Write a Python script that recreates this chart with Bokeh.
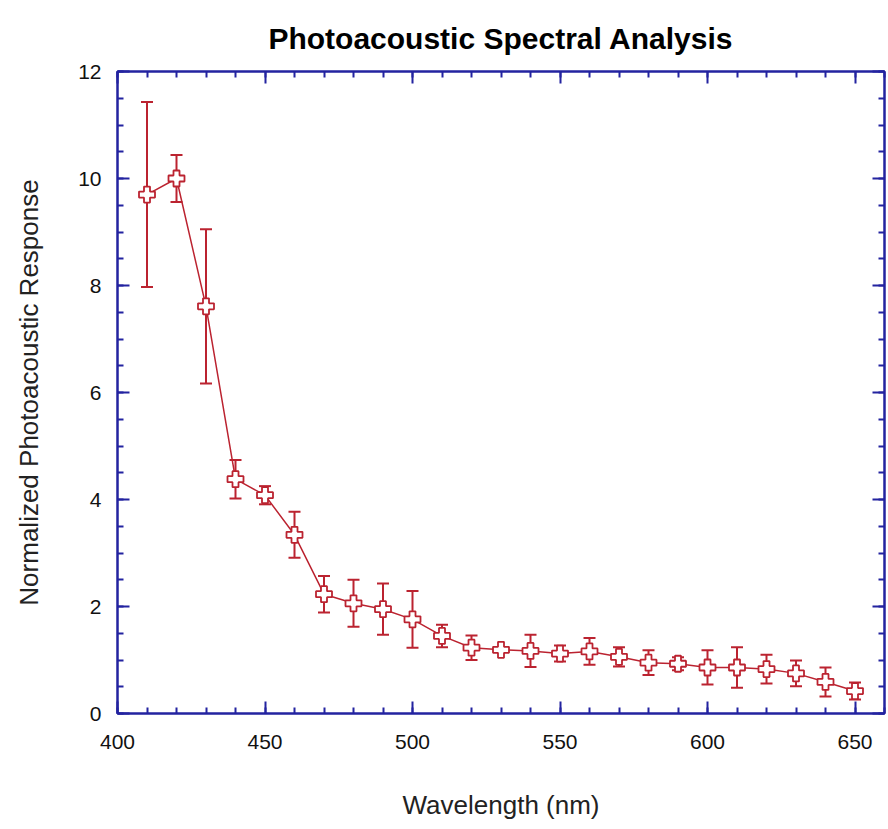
from bokeh.plotting import figure
from bokeh.models import (ColumnDataSource, Whisker, Range1d, SingleIntervalTicker,
                          LinearAxis, CustomLabelingPolicy)
from bokeh.embed import file_html
from bokeh.resources import INLINE

wavelength = [410, 420, 430, 440, 450, 460, 470, 480, 490, 500, 510, 520, 530,
              540, 550, 560, 570, 580, 590, 600, 610, 620, 630, 640, 650]
response = [9.70, 10.00, 7.61, 4.38, 4.08, 3.34, 2.23, 2.06, 1.95, 1.76, 1.45, 1.23, 1.19,
            1.17, 1.12, 1.16, 1.06, 0.95, 0.93, 0.86, 0.86, 0.83, 0.75, 0.59, 0.42]
error = [1.73, 0.44, 1.44, 0.36, 0.17, 0.43, 0.34, 0.44, 0.48, 0.53, 0.21, 0.23, 0.04,
         0.30, 0.15, 0.25, 0.18, 0.23, 0.12, 0.32, 0.38, 0.27, 0.24, 0.27, 0.16]

RED = "#bb2330"
BLUE = "#2323a0"
FONT = "Liberation Sans"

src = ColumnDataSource(dict(
    x=wavelength, y=response,
    upper=[r + e for r, e in zip(response, error)],
    lower=[r - e for r, e in zip(response, error)],
))

p = figure(width=888, height=822, output_backend="svg", toolbar_location=None,
           x_range=Range1d(400, 660), y_range=Range1d(0, 12),
           min_border_left=117, min_border_right=0, min_border_top=71, min_border_bottom=108,
           x_axis_label="Wavelength (nm)", y_axis_label="Normalized Photoacoustic Response",
           title="Photoacoustic Spectral Analysis")

p.title.align = "center"
p.title.vertical_align = "top"
p.title.text_font = FONT
p.title.text_font_size = "30px"
p.title.text_font_style = "bold"
p.title.text_color = "#000000"
p.title.standoff = 22

p.xgrid.visible = False
p.ygrid.visible = False
p.outline_line_color = BLUE
p.outline_line_width = 2
p.background_fill_color = "white"
p.border_fill_color = "white"

xt = SingleIntervalTicker(interval=50, num_minor_ticks=5)
yt = SingleIntervalTicker(interval=2, num_minor_ticks=4)

bottom = p.below[0]
left = p.left[0]
bottom.ticker = xt
left.ticker = yt

hide = "for (let i = 0; i < indices.size; i++) { indices.unset(i) }\nreturn indices"
top = LinearAxis(ticker=xt, major_label_policy=CustomLabelingPolicy(code=hide))
right = LinearAxis(ticker=yt, major_label_policy=CustomLabelingPolicy(code=hide))
p.add_layout(top, "above")
p.add_layout(right, "right")

for ax in (bottom, left, top, right):
    ax.axis_line_color = BLUE
    ax.axis_line_width = 2
    ax.major_tick_line_color = BLUE
    ax.minor_tick_line_color = BLUE
    ax.major_tick_line_width = 2
    ax.minor_tick_line_width = 2
    ax.major_tick_in = 12
    ax.major_tick_out = 0
    ax.minor_tick_in = 6
    ax.minor_tick_out = 0
    ax.major_label_text_font = FONT
    ax.major_label_text_color = "#111111"
    ax.major_label_text_font_size = "21px"
    ax.axis_label_text_font = FONT
    ax.axis_label_text_font_style = "normal"
    ax.axis_label_text_color = "#222222"
    ax.axis_label_text_font_size = "26px"

for ax in (top, right):
    ax.major_label_text_font_size = "1px"
    ax.major_label_standoff = 0

bottom.major_label_standoff = 21
left.major_label_standoff = 16
bottom.axis_label_standoff = 38
left.axis_label_standoff = 31

p.line("x", "y", source=src, line_color=RED, line_width=1.5)
w = Whisker(source=src, base="x", upper="upper", lower="lower",
            line_color=RED, line_width=2)
w.upper_head.size = 12
w.lower_head.size = 12
w.upper_head.line_color = RED
w.lower_head.line_color = RED
w.upper_head.line_width = 2
w.lower_head.line_width = 2
p.add_layout(w)
p.scatter("x", "y", source=src, marker="plus", size=16, fill_color="white",
          line_color=RED, line_width=1.8)

open("out.html", "w").write(file_html(p, INLINE))
